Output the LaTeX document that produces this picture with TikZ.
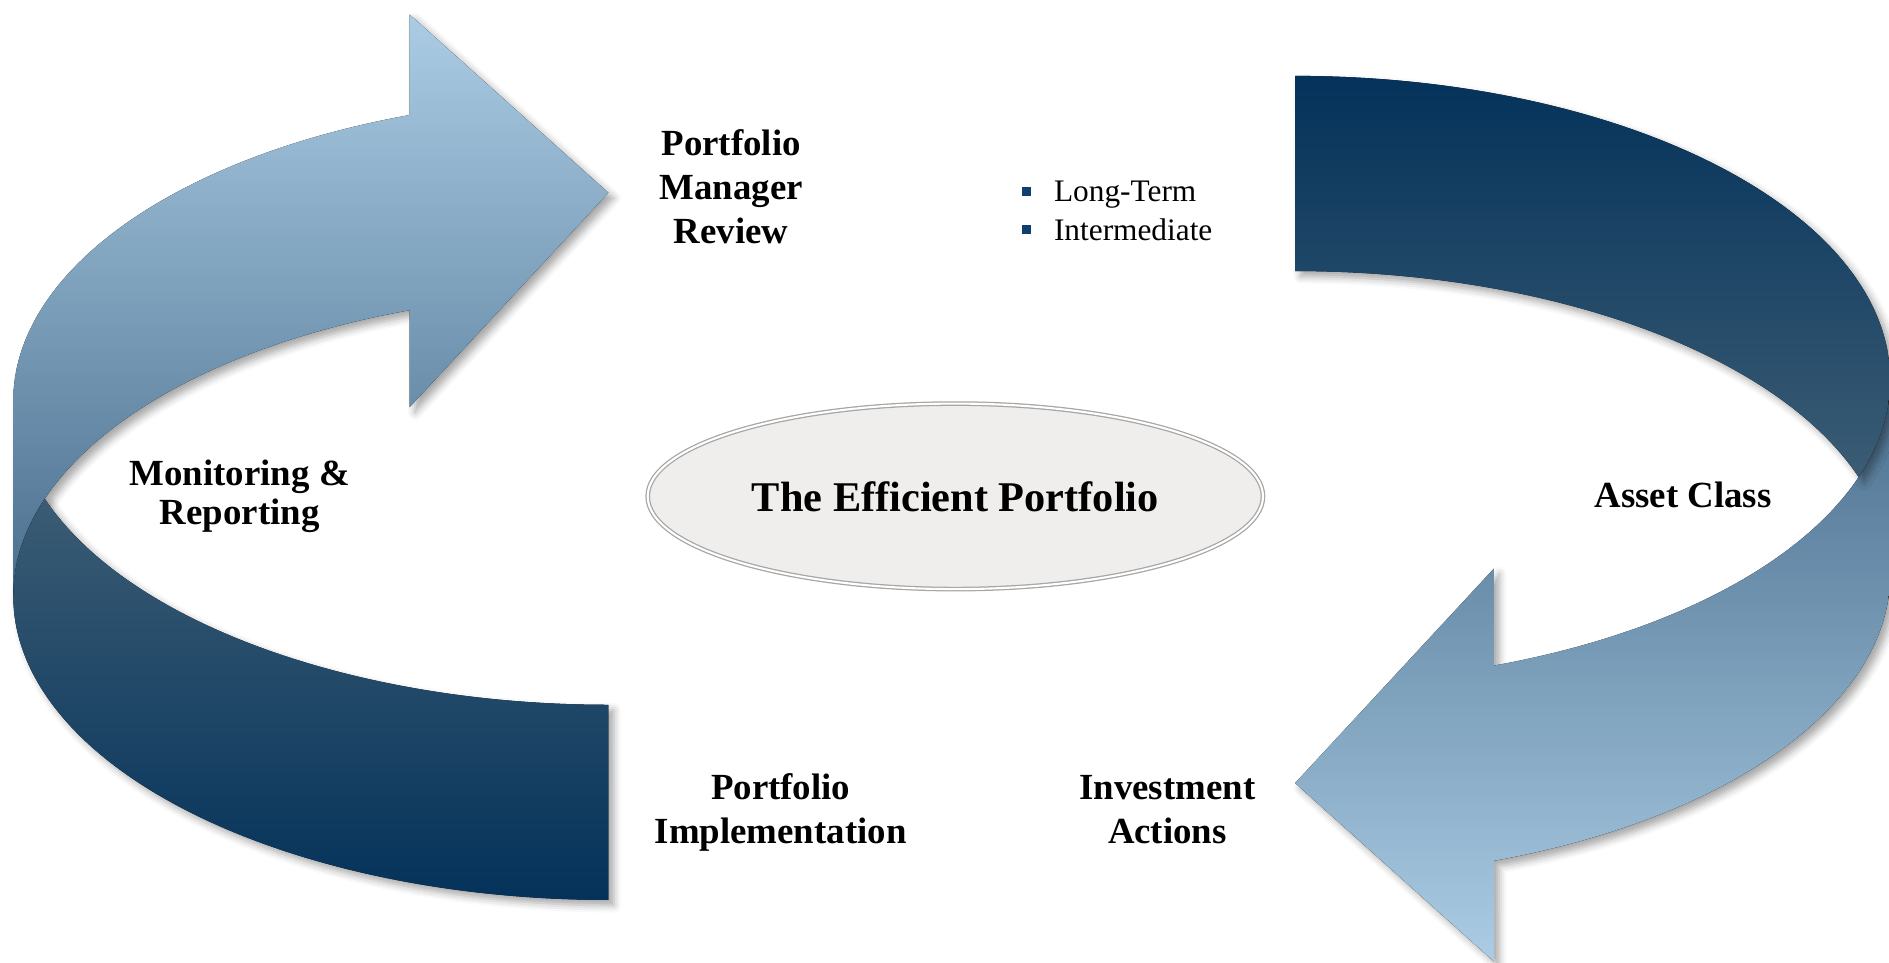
\documentclass[tikz,border=0pt]{standalone}
\usepackage{fontspec}
\setmainfont{Liberation Serif}
\usetikzlibrary{shapes.geometric,shadows.blur}

\definecolor{frontHi}{HTML}{ABCCE4}
\definecolor{frontLo}{HTML}{4A6F8E}
\definecolor{backHi}{HTML}{3B5C74}
\definecolor{backLo}{HTML}{04325A}
\definecolor{bulletblue}{HTML}{0F3F6E}
\definecolor{ovalfill}{HTML}{EFEEEC}

\begin{document}
\begin{tikzpicture}[x=0.1mm,y=0.1mm,
    ribbon/.style={blur shadow={shadow xshift=0.45mm,shadow yshift=-0.45mm,
      shadow blur radius=0.6mm,shadow opacity=35}},
    band/.style 2 args={ribbon,top color=#1,bottom color=#2},
    step label/.style={font=\bfseries\fontsize{8.7}{10.4}\selectfont,align=center}]
  \useasboundingbox (0,0) rectangle (1568,-799);
  % Curved arrows (the right one is the left one turned by 180 degrees,
  % the shading is not turned with it, so its colours are swapped)
  \foreach \r/\fa/\fb/\ba/\bb in {0/frontHi/frontLo/backHi/backLo,
                                  180/frontLo/frontHi/backLo/backHi} {
    \begin{scope}[rotate around={\r:(790,-405)}]
      % front of the band, with the head
      \fill[band={\fa}{\fb}] (11,-495) -- (11,-333)
        arc[start angle=180,end angle=109.51,x radius=494,y radius=252]
        -- (340,-12) -- (505,-160) -- (340,-338) -- (340,-257.5)
        arc[start angle=109.51,end angle=180,x radius=494,y radius=252] -- cycle;
      % back of the band (tail)
      \fill[band={\ba}{\bb}] (505,-585)
        arc[start angle=270,end angle=198.75,x radius=494,y radius=252]
        arc[start angle=161.25,end angle=270,x radius=494,y radius=252] -- cycle;
    \end{scope}
  }
  % Centre oval
  \node[ellipse,minimum width=50.1mm,minimum height=15.4mm,fill=ovalfill,
    draw=gray!70,double=white,double distance=0.5pt,line width=0.3pt,
    font=\bfseries\fontsize{10}{12}\selectfont] (core) at (793,-412) {The Efficient Portfolio};
  % Step labels
  \node[step label] (review) at (607,-155) {Portfolio\\Manager\\Review};
  \node[step label,font=\bfseries\fontsize{8.7}{9.1}\selectfont] (monitor) at (199,-412)
    {Monitoring \&\\Reporting};
  \node[step label] (asset) at (1397,-411) {Asset Class};
  \node[step label] (implement) at (648,-674) {Portfolio\\Implementation};
  \node[step label] (actions) at (969,-672) {Investment\\Actions};
  % Horizons
  \node[anchor=west,align=left,font=\fontsize{7.4}{9.1}\selectfont] (horizon) at (836,-175)
    {\textcolor{bulletblue}{\rule[0.5mm]{0.75mm}{0.75mm}}\hspace{1.9mm}Long-Term\\
     \textcolor{bulletblue}{\rule[0.5mm]{0.75mm}{0.75mm}}\hspace{1.9mm}Intermediate};
\end{tikzpicture}
\end{document}
